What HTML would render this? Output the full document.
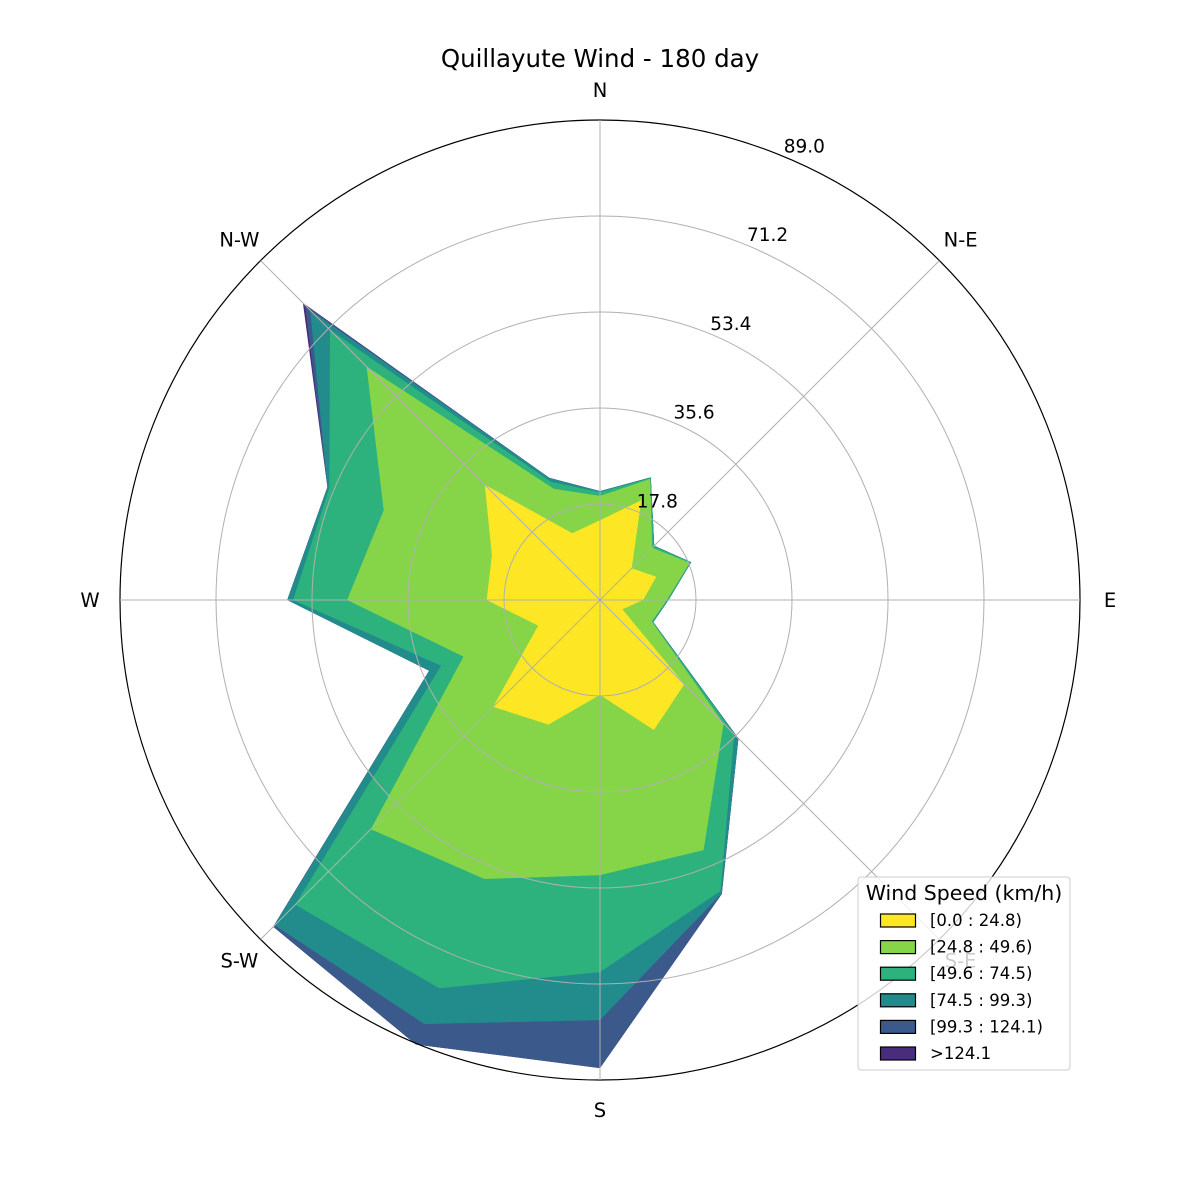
<!DOCTYPE html>
<html><head><meta charset="utf-8"><style>
html,body{margin:0;padding:0;background:#fff;}
svg{display:block;font-family:"DejaVu Sans","Liberation Sans",sans-serif;}
</style></head><body>
<svg id="chart" width="1200" height="1200" viewBox="0 0 1200 1200" xmlns="http://www.w3.org/2000/svg">
<rect width="1200" height="1200" fill="#fff"/>
<text x="600" y="67" text-anchor="middle" font-size="24.5" fill="#000">Quillayute Wind - 180 day</text>
<g id="fills"></g>
<g id="grid"></g>
<g id="labels"></g>
<g id="legend"></g>
</svg>
<script>
const directions = ["N","NNE","NE","ENE","E","ESE","SE","SSE","S","SSW","SW","WSW","W","WNW","NW","NNW"];
const bin1 = [14.8,20.0,8.3,11.3,8.0,4.5,22.1,26.1,17.6,25.0,28.0,12.4,21.0,21.7,30.2,13.4];
const bin2 = [4.5,4.3,5.4,6.7,4.4,5.9,10.3,24.1,33.4,31.0,32.1,15.0,25.9,21.7,31.0,8.9];
const bin3 = [0.7,0.2,0.4,0.2,0.2,0.2,2.8,8.2,18.0,21.9,19.8,4.5,10.0,10.9,9.6,1.4];
const bin4 = [0.2,0.1,0.1,0.1,0.1,0.1,1.1,0.5,8.9,7.2,5.4,2.4,1.1,0.4,5.2,0.8];
const bin5 = [0,0,0,0,0,0,0,0.1,8.9,4.1,0.4,0,0,0,1.3,0];
const bin6 = [0,0,0,0,0,0,0,0,0,0,0,0,0,0,0.6,0];
const binLabels = ["[0.0 : 24.8)","[24.8 : 49.6)","[49.6 : 74.5)","[74.5 : 99.3)","[99.3 : 124.1)",">124.1"];
const rTicks = [17.8,35.6,53.4,71.2,89.0];
const rMax = 89.0;
const compassLabels = ["N","N-E","E","S-E","S","S-W","W","N-W"];

const NS="http://www.w3.org/2000/svg";
const cx=600, cy=600, R=480;
const colors=["#fde725","#86d549","#2db27d","#228c8d","#3b5a8b","#472d7b"];
function rScale(v){return v/rMax*R;}
function pt(angleDeg,v){const a=angleDeg*Math.PI/180;return [cx+rScale(v)*Math.sin(a), cy-rScale(v)*Math.cos(a)];}
function mk(tag,attrs,parent){const e=document.createElementNS(NS,tag);for(const k in attrs)e.setAttribute(k,attrs[k]);parent.appendChild(e);return e;}

const bins=[bin1,bin2,bin3,bin4,bin5,bin6];
const cum=[];let run=directions.map(()=>0);
bins.forEach(b=>{run=run.map((v,i)=>v+b[i]);cum.push(run.slice());});
const fills=document.getElementById('fills');
for(let L=cum.length-1;L>=0;L--){
  const p=cum[L].map((v,i)=>pt(i*360/directions.length,v).map(n=>n.toFixed(1)).join(',')).join(' ');
  const poly=mk('polygon',{points:p,fill:colors[L]},fills);
  
  
}
const grid=document.getElementById('grid');
rTicks.forEach((t,i)=>{
  const c=mk('circle',{cx:cx,cy:cy,r:rScale(t),fill:'none',stroke:i===rTicks.length-1?'#000':'#b0b0b0','stroke-width':i===rTicks.length-1?1.2:1},grid);
  
  
});
for(let k=0;k<8;k++){
  const [x,y]=pt(k*45,rMax);
  const l=mk('line',{x1:cx,y1:cy,x2:x,y2:y,stroke:'#b0b0b0','stroke-width':1},grid);
  
  
}
const labels=document.getElementById('labels');
compassLabels.forEach((s,k)=>{
  const a=k*45*Math.PI/180, rr=R+30;
  const x=cx+rr*Math.sin(a), y=cy-rr*Math.cos(a);
  const t=mk('text',{x:x.toFixed(1),y:(y+7).toFixed(1),'text-anchor':'middle','font-size':19.5,fill:'#000'},labels);
  t.textContent=s;
  
  
});
rTicks.forEach(t=>{
  const [x,y]=pt(22.5,t);
  const e=mk('text',{x:x.toFixed(1),y:(y-4).toFixed(1),'text-anchor':'start','font-size':18.5,fill:'#000'},labels);
  e.textContent=t.toFixed(1);
  
  
});
const lg=document.getElementById('legend');
const box=mk('rect',{x:858,y:877,width:212,height:193,rx:3,fill:'#fff','fill-opacity':0.8,stroke:'#ccc','stroke-width':1},lg);


const lt=mk('text',{x:964,y:900,'text-anchor':'middle','font-size':20.5,fill:'#000'},lg);
lt.textContent='Wind Speed (km/h)';


binLabels.forEach((s,i)=>{
  const y=914+i*26.6;
  const r=mk('rect',{x:880.5,y:y.toFixed(1),width:35,height:13,fill:colors[i],stroke:'#000','stroke-width':1.2},lg);
  
  
  const t=mk('text',{x:930,y:(y+12).toFixed(1),'font-size':16.5,fill:'#000'},lg);
  t.textContent=s;
  
  
});
</script>
</body></html>
